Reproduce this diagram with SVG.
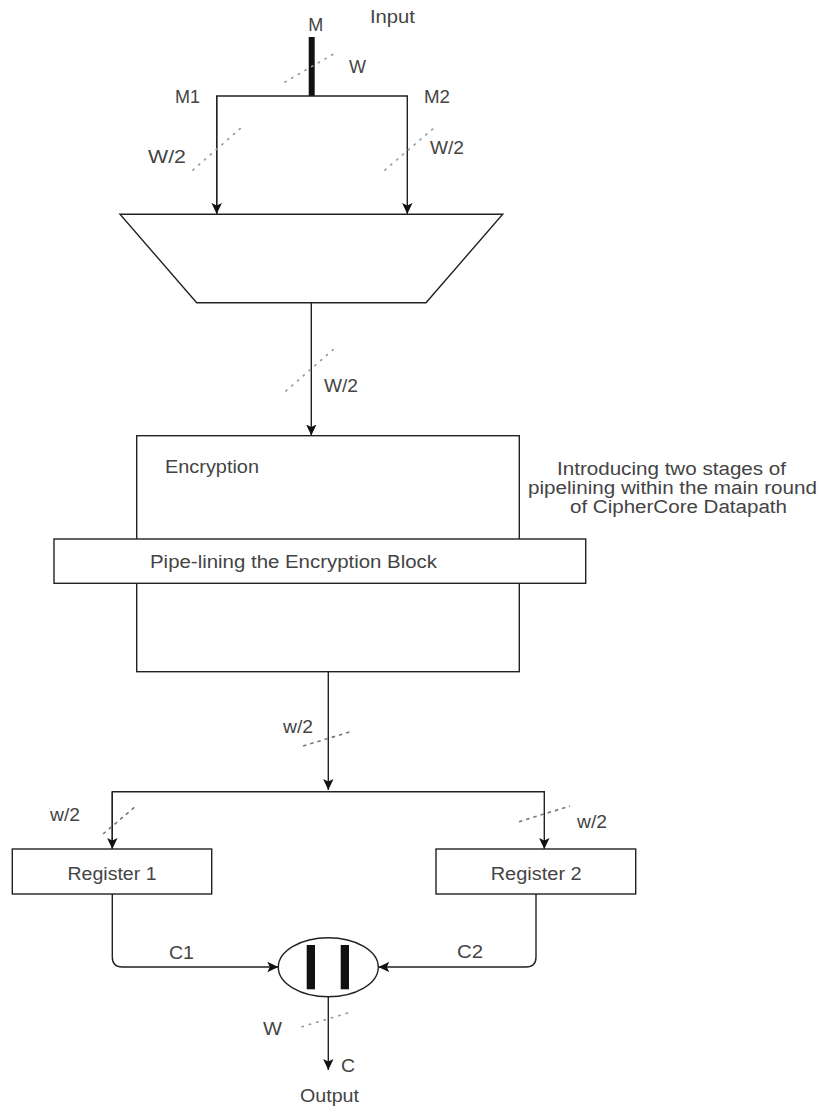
<svg xmlns="http://www.w3.org/2000/svg" width="822" height="1110" viewBox="0 0 822 1110">
<style>
.t{font-family:"Liberation Sans",Arial,sans-serif;font-size:18px;fill:#444}
.box{fill:#fff;stroke:#222;stroke-width:1.4}
.ln{fill:none;stroke:#222;stroke-width:1.4}
.dot{fill:none;stroke:#999;stroke-width:1.7;stroke-dasharray:1.2 6.5;stroke-linecap:round}
.dash{fill:none;stroke:#777;stroke-width:1.6;stroke-dasharray:3.5 4}
</style>
<defs>
<marker id="arr" markerUnits="userSpaceOnUse" markerWidth="12" markerHeight="12" viewBox="0 0 12 12" refX="11" refY="6" orient="auto">
<path d="M0,0.8 L11,6 L0,11.2 L2.5,6 Z" fill="#111"/>
</marker>
</defs>
<rect width="822" height="1110" fill="#fff"/>

<g id="connectors">
<line x1="311.7" y1="37" x2="311.7" y2="96" stroke="#111" stroke-width="6"/>
<polyline class="ln" points="216.7,214 216.7,96 407.3,96 407.3,214" marker-end="url(#arr)"/>
<line class="ln" x1="216.7" y1="96" x2="216.7" y2="214" marker-end="url(#arr)"/>
<line class="ln" x1="311.3" y1="303" x2="311.3" y2="435.5" marker-end="url(#arr)"/>
<line class="ln" x1="328.3" y1="672" x2="328.3" y2="790" marker-end="url(#arr)"/>
<polyline class="ln" points="112.3,849 112.3,791.7 544.3,791.7 544.3,849" marker-end="url(#arr)"/>
<line class="ln" x1="112.3" y1="791.7" x2="112.3" y2="849" marker-end="url(#arr)"/>
<path class="ln" d="M112.3,894 L112.3,957 Q112.3,967 122.3,967 L278.3,967" marker-end="url(#arr)"/>
<path class="ln" d="M536,894 L536,957 Q536,967 526,967 L378.3,967" marker-end="url(#arr)"/>
<line class="ln" x1="328.3" y1="997" x2="328.3" y2="1070" marker-end="url(#arr)"/>
<line class="dot" x1="285" y1="82" x2="337" y2="52"/>
<line class="dot" x1="193" y1="170" x2="242" y2="127"/>
<line class="dot" x1="385" y1="170" x2="435" y2="127"/>
<line class="dot" x1="286" y1="391" x2="335" y2="348"/>
<line class="dash" x1="303" y1="746" x2="353" y2="731"/>
<line class="dash" x1="103" y1="834" x2="136" y2="806"/>
<line class="dash" x1="519" y1="821.7" x2="570" y2="806"/>
<line class="dot" x1="302" y1="1026.7" x2="352" y2="1011.7"/>
</g>

<g id="labels">
<text class="t" x="315.7" y="30.5" text-anchor="middle" textLength="15" lengthAdjust="spacingAndGlyphs">M</text>
<text class="t" x="370" y="23" textLength="45" lengthAdjust="spacingAndGlyphs">Input</text>
<text class="t" x="349" y="73" textLength="17" lengthAdjust="spacingAndGlyphs">W</text>
<text class="t" x="175" y="103" textLength="25" lengthAdjust="spacingAndGlyphs">M1</text>
<text class="t" x="424" y="103" textLength="26" lengthAdjust="spacingAndGlyphs">M2</text>
<text class="t" x="148" y="163" textLength="38" lengthAdjust="spacingAndGlyphs">W/2</text>
<text class="t" x="430" y="154" textLength="34" lengthAdjust="spacingAndGlyphs">W/2</text>
<text class="t" x="324" y="392" textLength="34" lengthAdjust="spacingAndGlyphs">W/2</text>
<text class="t" x="283" y="733" textLength="30" lengthAdjust="spacingAndGlyphs">w/2</text>
<text class="t" x="50" y="821" textLength="30" lengthAdjust="spacingAndGlyphs">w/2</text>
<text class="t" x="577" y="828" textLength="30" lengthAdjust="spacingAndGlyphs">w/2</text>
<text class="t" x="169" y="959" textLength="25" lengthAdjust="spacingAndGlyphs">C1</text>
<text class="t" x="457" y="958" textLength="26" lengthAdjust="spacingAndGlyphs">C2</text>
<text class="t" x="263" y="1035" textLength="19" lengthAdjust="spacingAndGlyphs">W</text>
<text class="t" x="341" y="1072" textLength="14" lengthAdjust="spacingAndGlyphs">C</text>
<text class="t" x="300" y="1102" textLength="59" lengthAdjust="spacingAndGlyphs">Output</text>
</g>

<g id="mux">
<polygon class="box" points="120,214.3 502.7,214.3 426,302.7 196.7,302.7"/>
</g>

<g id="encryption">
<rect class="box" x="136.7" y="435.7" width="382.6" height="236"/>
<text class="t" x="165" y="473" textLength="94" lengthAdjust="spacingAndGlyphs">Encryption</text>
</g>

<g id="pipelining">
<rect class="box" x="54" y="539" width="531.7" height="44.3"/>
<text class="t" x="150" y="568" textLength="287" lengthAdjust="spacingAndGlyphs">Pipe-lining the Encryption Block</text>
</g>

<g id="annotation">
<text class="t" x="557" y="475" textLength="229" lengthAdjust="spacingAndGlyphs">Introducing two stages of</text>
<text class="t" x="528" y="494" textLength="289" lengthAdjust="spacingAndGlyphs">pipelining within the main round</text>
<text class="t" x="570" y="513" textLength="217" lengthAdjust="spacingAndGlyphs">of CipherCore Datapath</text>
</g>

<g id="register1">
<rect class="box" x="12.3" y="849" width="199.4" height="45"/>
<text class="t" x="67.5" y="880" textLength="89" lengthAdjust="spacingAndGlyphs">Register 1</text>
</g>

<g id="register2">
<rect class="box" x="436" y="849" width="199.7" height="45"/>
<text class="t" x="490.7" y="880" textLength="91" lengthAdjust="spacingAndGlyphs">Register 2</text>
</g>

<g id="concat">
<ellipse class="box" cx="328.3" cy="967.2" rx="50" ry="29.5"/>
<rect x="306.7" y="945" width="8.3" height="44.3" fill="#111"/>
<rect x="340.7" y="945" width="8.3" height="44.3" fill="#111"/>
</g>
</svg>
